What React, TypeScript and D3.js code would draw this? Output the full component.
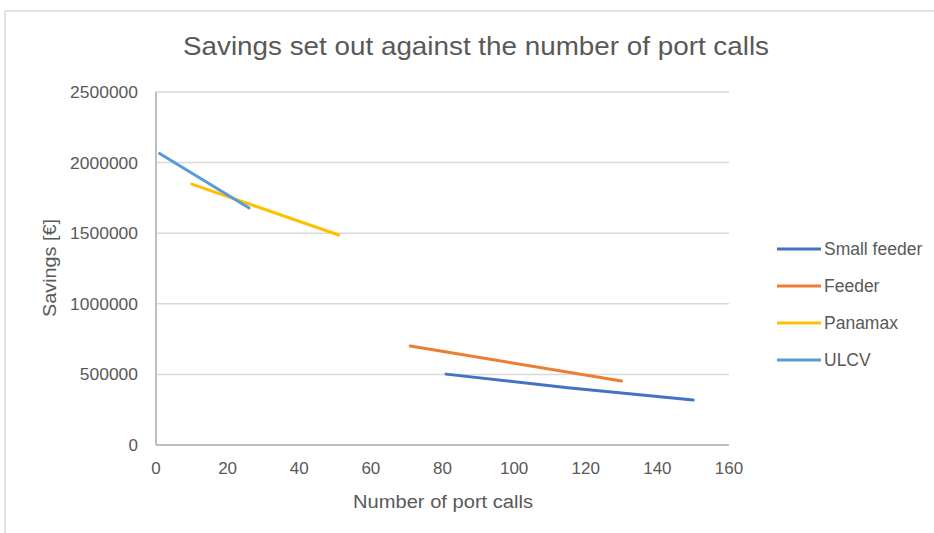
import React from "react";
import * as d3 from "d3";

const seriesNames = ["Small feeder", "Feeder", "Panamax", "ULCV"];
const seriesColors = ["#4472C4", "#ED7D31", "#FFC000", "#5B9BD5"];
const smallFeederX = [81, 115, 150];
const smallFeederY = [502000, 405000, 318000];
const feederX = [71, 130];
const feederY = [701000, 453000];
const panamaxX = [10, 51];
const panamaxY = [1848000, 1487000];
const ulcvX = [1, 26];
const ulcvY = [2065000, 1678000];
const xTicks = [0, 20, 40, 60, 80, 100, 120, 140, 160];
const yTicks = [0, 500000, 1000000, 1500000, 2000000, 2500000];

const seriesX = [smallFeederX, feederX, panamaxX, ulcvX];
const seriesY = [smallFeederY, feederY, panamaxY, ulcvY];

export default function App() {
  const W = 934, H = 533;
  const left = 156, right = 729, top = 92, bottom = 445;
  const x = d3.scaleLinear().domain([0, 160]).range([left, right]);
  const y = d3.scaleLinear().domain([0, 2500000]).range([bottom, top]);
  const line = d3.line<[number, number]>().x(d => x(d[0])).y(d => y(d[1]));
  const font = "'Liberation Sans', Arial, sans-serif";
  const txt = "#595959";
  return (
    <svg width={W} height={H} style={{ position: "fixed", left: 0, top: 0, background: "#fff" }} fontFamily={font}>
      <rect x={0} y={0} width={W} height={H} fill="#fff" />
      <line x1={5} y1={11} x2={W} y2={11} stroke="#d9d9d9" strokeWidth={1.5} />
      <line x1={5} y1={11} x2={5} y2={H} stroke="#d9d9d9" strokeWidth={1.5} />
      <text x={476} y={55} textAnchor="middle" fontSize={25} fill={txt} textLength={586} lengthAdjust="spacingAndGlyphs">Savings set out against the number of port calls</text>
      {yTicks.map(t => {
        const s = String(t);
        return (
          <g key={t}>
            {t > 0 && <line x1={left} x2={right} y1={y(t)} y2={y(t)} stroke="#d9d9d9" strokeWidth={1.5} />}
            <text x={138} y={y(t) + 6} textAnchor="end" fontSize={17} fill={txt} textLength={s.length > 1 ? s.length * 9.7 : undefined} lengthAdjust="spacingAndGlyphs">{s}</text>
          </g>
        );
      })}
      <line x1={left} x2={left} y1={top} y2={bottom} stroke="#bfbfbf" strokeWidth={2} />
      <line x1={left} x2={right} y1={bottom} y2={bottom} stroke="#bfbfbf" strokeWidth={2} />
      {xTicks.map(t => (
        <text key={t} x={x(t)} y={474} textAnchor="middle" fontSize={17} fill={txt}>{t}</text>
      ))}
      <text x={443} y={508} textAnchor="middle" fontSize={18} fill={txt} textLength={180} lengthAdjust="spacingAndGlyphs">Number of port calls</text>
      <text transform={`translate(56,268) rotate(-90)`} textAnchor="middle" fontSize={18} fill={txt} textLength={98} lengthAdjust="spacingAndGlyphs">Savings [€]</text>
      {seriesNames.map((n, i) => (
        <path key={n} d={line(seriesX[i].map((v, j) => [v, seriesY[i][j]]) as [number, number][]) || ""} fill="none" stroke={seriesColors[i]} strokeWidth={3} strokeLinecap="round" />
      ))}
      {seriesNames.map((n, i) => (
        <g key={n} transform={`translate(0,${249 + i * 37})`}>
          <line x1={777} x2={821} y1={0} y2={0} stroke={seriesColors[i]} strokeWidth={3} />
          <text x={824} y={6} fontSize={17.5} fill={txt}>{n}</text>
        </g>
      ))}
    </svg>
  );
}
